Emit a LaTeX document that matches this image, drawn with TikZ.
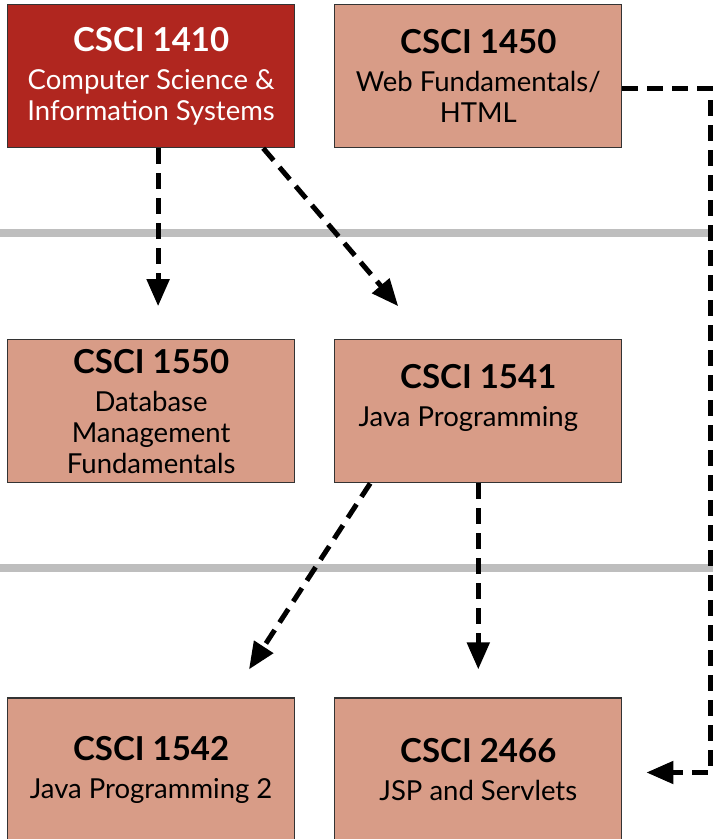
\documentclass[tikz,border=0pt]{standalone}
\usepackage{fontspec}
\setmainfont{Lato}
\usetikzlibrary{positioning, arrows.meta}

\definecolor{darkred}{HTML}{B0261F}
\definecolor{salmon}{HTML}{D89C87}
\definecolor{bargray}{HTML}{BEBEBE}

\newcommand{\ctitle}[1]{{\fontsize{33}{36}\selectfont\bfseries #1}}

\begin{document}
\begin{tikzpicture}[x=1pt, y=1pt, node distance=39pt,
    course/.style={draw=black!80, line width=1.2pt, fill=salmon, minimum width=287pt,
      minimum height=143pt, align=center, inner sep=0pt,
      font=\fontsize{27.5}{31}\selectfont},
    prereq/.style={line width=5pt, dash pattern=on 16pt off 9pt,
      -{Triangle[length=27pt, width=22pt]}}]
    \useasboundingbox (0,0) rectangle (713,839);

    \fill[bargray] (0,602) rectangle (713,610);
    \fill[bargray] (0,267) rectangle (713,275);

    \node[course, fill=darkred, text=white, anchor=north west] (c1410) at (7,835)
      {\ctitle{CSCI 1410}\\[7pt] Computer Science \&\\ Information Systems};
    \node[course, right=of c1410] (c1450)
      {\ctitle{CSCI 1450}\\[7pt] Web Fundamentals/\\ HTML};
    \node[course, below=191pt of c1410] (c1550)
      {\ctitle{CSCI 1550}\\[7pt] Database\\ Management\\ Fundamentals};
    \node[course, right=of c1550] (c1541)
      {\ctitle{CSCI 1541}\\[7pt] \hspace*{-20pt}Java Programming\\ \mbox{}};
    \node[course, below=214pt of c1550] (c1542)
      {\ctitle{CSCI 1542}\\[7pt] Java Programming 2};
    \node[course, right=of c1542] (c2466)
      {\ctitle{CSCI 2466}\\[7pt] JSP and Servlets};

    \draw[prereq] ([xshift=7pt]c1410.south) -- ([xshift=7pt, yshift=33pt]c1410.south |- c1550.north);
    \draw[prereq] ([xshift=-32pt]c1410.south east) -- ([xshift=64pt, yshift=33pt]c1541.north west);
    \draw[prereq] ([xshift=36pt]c1541.south west) -- ([xshift=242pt, yshift=28pt]c1542.north west);
    \draw[prereq] (c1541.south) -- ([yshift=28pt]c1541.south |- c2466.north);
    \draw[prereq] ([yshift=-12pt]c1450.east) -- ++(88,0) |- ([xshift=24pt, yshift=-3pt]c2466.east);
  \end{tikzpicture}
\end{document}
